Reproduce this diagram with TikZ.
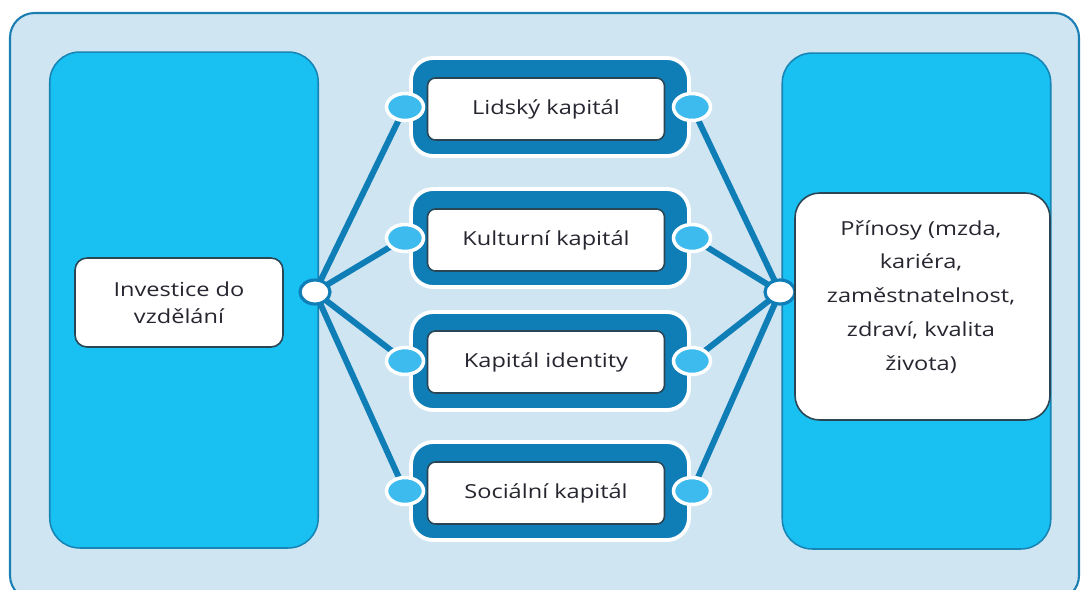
\documentclass[tikz,border=0pt]{standalone}
\usepackage{fontspec}
\setmainfont[FakeStretch=1.22]{Open Sans}
\usetikzlibrary{shapes.geometric}
\definecolor{framefill}{HTML}{CFE5F2}
\definecolor{frameline}{HTML}{1B7FB3}
\definecolor{colfill}{HTML}{19C0F2}
\definecolor{colline}{HTML}{1785B5}
\definecolor{darkblue}{HTML}{0F7DB6}
\definecolor{dotblue}{HTML}{3DBBEE}
\definecolor{txt}{HTML}{262630}
\definecolor{boxline}{HTML}{2A4655}
\begin{document}
\begin{tikzpicture}[x=0.02cm,y=-0.02cm,
  column/.style={draw=colline, line width=0.9pt, fill=colfill, rounded corners=17pt,
    minimum width=5.37cm, minimum height=9.92cm, inner sep=0pt},
  whitebox/.style={draw=boxline, line width=0.9pt, fill=white, inner sep=0pt,
    text=txt, align=center},
  capouter/.style={draw=white, line width=2.2pt, fill=darkblue, rounded corners=12.5pt,
    minimum width=5.56cm, minimum height=1.96cm, inner sep=0pt},
  capinner/.style={whitebox, rounded corners=4.5pt, minimum width=4.74cm,
    minimum height=1.24cm, font=\fontsize{11}{13}\selectfont},
  dot/.style={ellipse, draw=white, line width=2pt, fill=dotblue,
    minimum width=0.74cm, minimum height=0.54cm, inner sep=0pt},
  hub/.style={ellipse, draw=darkblue, line width=1.8pt, fill=white,
    minimum width=0.6cm, minimum height=0.48cm, inner sep=0pt},
  link/.style={darkblue, line width=3.4pt}
]
\useasboundingbox (0,0) rectangle (1081,589);
\clip (0,0) rectangle (1081,589);
\draw[draw=frameline, fill=framefill, line width=1.2pt, rounded corners=14pt]
  (10,13) rectangle (1079,600);

% columns
\node[column] (leftcol) at (184,300) {};
\node[column] (rightcol) at (916.5,301) {};

% hubs positions
\coordinate (hl) at (315,292);
\coordinate (hr) at (780,292);

% capital rows
\foreach \name/\yy in {lid/107, kul/238, ide/361, soc/491}{
  \coordinate (\name L) at (405,\yy);
  \coordinate (\name R) at (692,\yy);
}
\foreach \name in {lid, kul, ide, soc}{
  \draw[link] (hl) -- (\name L);
  \draw[link] (\name R) -- (hr);
}

\node[capouter] (lidO) at (550,107) {};
\node[capouter] (kulO) at (550,238) {};
\node[capouter] (ideO) at (550,361) {};
\node[capouter] (socO) at (550,491) {};

\node[capinner] (lid) at (546,109) {Lidský kapitál};
\node[capinner] (kul) at (546,240) {Kulturní kapitál};
\node[capinner] (ide) at (546,362) {Kapitál identity};
\node[capinner] (soc) at (546,493) {Sociální kapitál};

\foreach \name in {lid, kul, ide, soc}{
  \node[dot] (\name dotL) at (\name L) {};
  \node[dot] (\name dotR) at (\name R) {};
}

\node[hub] (hubL) at (hl) {};
\node[hub] (hubR) at (hr) {};

% investice
\node[whitebox, rounded corners=6.8pt, minimum width=4.16cm, minimum height=1.78cm,
  font=\fontsize{11}{15.3}\selectfont] (inv) at (179,302.5) {Investice do\\vzdělání};

% prinosy
\node[whitebox, rounded corners=14pt, minimum width=5.1cm, minimum height=4.54cm]
  (prin) at (922.5,306.5) {};
\node[text=txt, align=center, font=\fontsize{11}{19.3}\selectfont, inner sep=0pt]
  (printext) at (921,297) {Přínosy (mzda,\\kariéra,\\zaměstnatelnost,\\zdraví, kvalita\\života)};
\end{tikzpicture}
\end{document}
